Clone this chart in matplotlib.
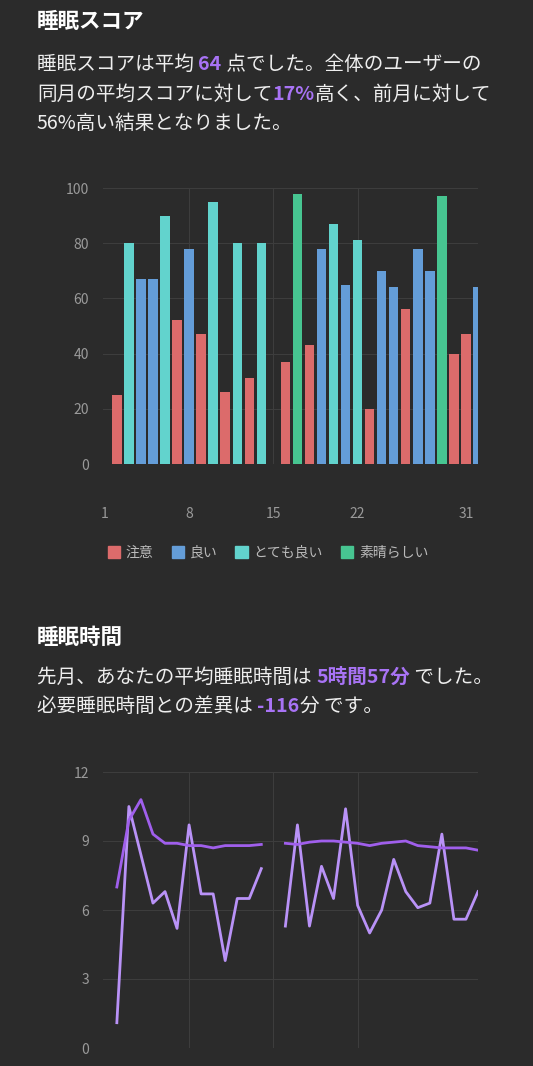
import numpy as np
import matplotlib.pyplot as plt
from matplotlib.patches import Patch

plt.rcParams['font.family'] = ['Noto Sans CJK JP', 'DejaVu Sans']

# ---- data ----
days = list(range(1, 32))
score = [25, 80, 67, 67, 90, 52, 78, 47, 95, 26, 80, 31, 80, None,
         37, 98, 43, 78, 87, 65, 81, 20, 70, 64, 56, 78, 70, 97, 40, 47, 64]
grade = ['注意', 'とても良い', '良い', '良い', 'とても良い', '注意', '良い', '注意', 'とても良い', '注意',
         'とても良い', '注意', 'とても良い', None,
         '注意', '素晴らしい', '注意', '良い', 'とても良い', '良い', 'とても良い', '注意', '良い', '良い',
         '注意', '良い', '良い', '素晴らしい', '注意', '注意', '良い']
grade_names = ['注意', '良い', 'とても良い', '素晴らしい']
grade_colors = ['#dc6b6b', '#649dd8', '#62d3cd', '#47c591']

sleep_daily = [1.1, 10.5, 8.4, 6.3, 6.8, 5.2, 9.7, 6.7, 6.7, 3.8, 6.5, 6.5, 7.8, np.nan,
               5.3, 9.7, 5.3, 7.9, 6.5, 10.4, 6.2, 5.0, 6.0, 8.2, 6.8, 6.1, 6.3, 9.3, 5.6, 5.6, 6.8]
sleep_avg = [7.0, 9.9, 10.8, 9.3, 8.9, 8.9, 8.8, 8.8, 8.7, 8.8, 8.8, 8.8, 8.85, np.nan,
             8.9, 8.85, 8.95, 9.0, 9.0, 8.95, 8.9, 8.8, 8.9, 8.95, 9.0, 8.8, 8.75, 8.7, 8.7, 8.7, 8.6]
day_ticks = [1, 8, 15, 22, 31]

BG = '#2b2b2b'
PURPLE = '#a873f5'
W, H = 533, 1066

fig = plt.figure(figsize=(5.33, 10.66), dpi=100, facecolor=BG)
fig.canvas.draw()
renderer = fig.canvas.get_renderer()


def seg_line(x, y, parts, size=14.1):
    # place coloured text segments one after another (pixel coords from top-left)
    for txt, col, bold in parts:
        t = fig.text(x / W, 1 - y / H, txt, color=col, fontsize=size,
                     fontweight='bold' if bold else 'normal', va='center', ha='left')
        x += t.get_window_extent(renderer).width


fig.text(37 / W, 1 - 22 / H, '睡眠スコア', color='white', fontsize=15.5, fontweight='bold', va='center')
seg_line(37, 64, [('睡眠スコアは平均 ', '#eeeeee', False), ('64', PURPLE, True),
                  (' 点でした。全体のユーザーの', '#eeeeee', False)])
seg_line(37, 94, [('同月の平均スコアに対して', '#eeeeee', False), ('17%', PURPLE, True),
                  ('高く、前月に対して', '#eeeeee', False)])
seg_line(37, 123, [('56%高い結果となりました。', '#eeeeee', False)])

fig.text(37 / W, 1 - 637 / H, '睡眠時間', color='white', fontsize=15.5, fontweight='bold', va='center')
seg_line(37, 677, [('先月、あなたの平均睡眠時間は ', '#eeeeee', False), ('5時間57分', PURPLE, True),
                   (' でした。', '#eeeeee', False)])
seg_line(37, 706, [('必要睡眠時間との差異は ', '#eeeeee', False), ('-116', PURPLE, True),
                   ('分 です。', '#eeeeee', False)])


def style(ax, ylim, yticks):
    ax.set_facecolor(BG)
    for s in ax.spines.values():
        s.set_visible(False)
    ax.set_xlim(-0.15, 31.0)
    ax.set_ylim(*ylim)
    ax.set_yticks(yticks)
    ax.grid(axis='y', color='#3d3d3d', lw=0.8)
    for v in [7, 14, 21]:
        ax.axvline(v, color='#3d3d3d', lw=0.8, zorder=0)
    ax.axvline(31.0, color='#3d3d3d', lw=0.8, zorder=0)
    ax.set_axisbelow(True)
    ax.tick_params(length=0, colors='#9a9a9a', labelsize=10)
    ax.tick_params(axis='y', pad=10)


# bar chart
ax1 = fig.add_axes([103 / W, 1 - 464 / H, 375 / W, 276 / H])
style(ax1, (0, 100), range(0, 101, 20))
cmap = dict(zip(grade_names, grade_colors))
for d, s, g in zip(days, score, grade):
    if s is not None:
        ax1.bar(d, s, width=0.78, color=cmap[g])
ax1.set_xticks([d - 1 for d in day_ticks], [str(d) for d in day_ticks])
ax1.tick_params(axis='x', pad=31)

handles = [Patch(color=c, label=n) for n, c in zip(grade_names, grade_colors)]
fig.legend(handles=handles, loc='center', bbox_to_anchor=(268 / W, 1 - 553 / H), ncol=4,
           frameon=False, labelcolor='#bbbbbb', fontsize=10, handlelength=0.9, handleheight=0.9,
           handletextpad=0.4, columnspacing=1.3)

# line chart
ax2 = fig.add_axes([103 / W, 1 - 1048 / H, 375 / W, 276 / H])
style(ax2, (0, 12), range(0, 13, 3))
ax2.plot(days, sleep_daily, color='#b992f7', lw=2)
ax2.plot(days, sleep_avg, color='#a05fec', lw=2)
ax2.set_xticks([])

fig.savefig('out.png', dpi=100, facecolor=BG)
